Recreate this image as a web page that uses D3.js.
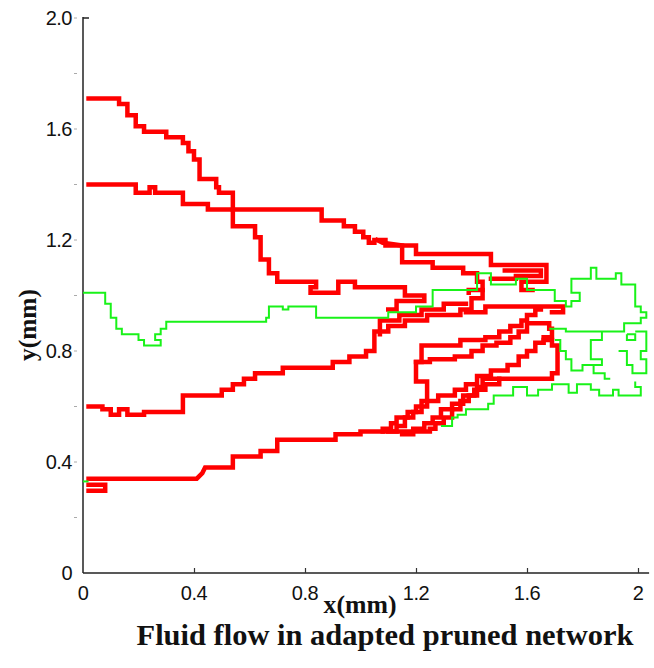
<!DOCTYPE html>
<html><head><meta charset="utf-8">
<script src="https://cdn.jsdelivr.net/npm/d3@7"></script>
<style>body{margin:0;background:#fff}svg{display:block}</style>
</head><body>
<svg id="chart" width="654" height="668"></svg>
<script>
// ---- data (mm) ----
const xTicks = [0, 0.4, 0.8, 1.2, 1.6, 2];
const yTicks = [0, 0.4, 0.8, 1.2, 1.6, 2.0];
const yMinorTicks = [0.2, 0.6, 1.0, 1.4, 1.8];
const xLabel = "x(mm)";
const yLabel = "y(mm)";
const title = "Fluid flow in adapted pruned network";

const redTop = [[0.02,1.71],[0.13,1.71],[0.13,1.69],[0.16,1.69],[0.16,1.65],[0.19,1.65],[0.19,1.61],[0.22,1.61],[0.22,1.59],[0.30,1.59],[0.30,1.57],[0.36,1.57],[0.36,1.55],[0.38,1.55],[0.38,1.52],[0.40,1.52],[0.40,1.49],[0.42,1.49],[0.42,1.42],[0.48,1.42],[0.48,1.39],[0.49,1.39],[0.49,1.37],[0.54,1.37],[0.54,1.31],[0.86,1.31],[0.86,1.27],[0.94,1.27],[0.94,1.25],[0.98,1.25],[0.98,1.23],[1.01,1.23],[1.01,1.21],[1.03,1.21],[1.03,1.19],[1.05,1.19],[1.05,1.20],[1.09,1.20],[1.09,1.18],[1.20,1.18],[1.20,1.15],[1.47,1.15],[1.47,1.11],[1.67,1.11],[1.67,1.05],[1.58,1.05],[1.58,1.02],[1.62,1.02]];
const redTopB = [[1.06,1.20],[1.08,1.19],[1.15,1.18],[1.15,1.12],[1.26,1.12],[1.26,1.10],[1.37,1.10],[1.37,1.08],[1.42,1.08],[1.42,1.05],[1.44,1.05],[1.44,1.02],[1.39,1.02],[1.39,1.01]];
const redTopC = [[1.47,1.06],[1.56,1.06],[1.56,1.07],[1.65,1.07],[1.65,1.09],[1.52,1.09]];
const redSecond = [[0.02,1.40],[0.19,1.40],[0.19,1.37],[0.24,1.37],[0.24,1.39],[0.26,1.39],[0.26,1.37],[0.36,1.37],[0.36,1.33],[0.45,1.33],[0.45,1.31],[0.54,1.31],[0.54,1.25],[0.62,1.25],[0.62,1.21],[0.64,1.21],[0.64,1.13],[0.67,1.13],[0.67,1.08],[0.70,1.08],[0.70,1.05],[0.84,1.05],[0.84,1.03],[0.82,1.03],[0.82,1.01],[0.92,1.01],[0.92,1.05],[0.98,1.05],[0.98,1.03],[1.16,1.03],[1.16,1.00],[1.23,1.00],[1.23,0.98],[1.13,0.98],[1.13,0.95],[1.10,0.95]];
const redThird = [[0.02,0.60],[0.07,0.60],[0.07,0.59],[0.10,0.59],[0.10,0.57],[0.13,0.57],[0.13,0.59],[0.16,0.59],[0.16,0.57],[0.22,0.57],[0.22,0.58],[0.36,0.58],[0.36,0.64],[0.50,0.64],[0.50,0.66],[0.54,0.66],[0.54,0.68],[0.58,0.68],[0.58,0.70],[0.62,0.70],[0.62,0.72],[0.72,0.72],[0.72,0.74],[0.90,0.74],[0.90,0.76],[0.96,0.76],[0.96,0.78],[1.02,0.78],[1.02,0.80],[1.05,0.80],[1.05,0.87],[1.10,0.87],[1.10,0.89],[1.16,0.89],[1.16,0.91],[1.24,0.91],[1.24,0.93],[1.36,0.93],[1.36,0.95],[1.40,0.95],[1.40,0.99],[1.44,0.99],[1.44,1.02]];
const redBand = [[1.07,0.86],[1.07,0.91],[1.14,0.91],[1.14,0.93],[1.22,0.93],[1.22,0.95],[1.30,0.95],[1.30,0.97],[1.38,0.97]];
const redMid = [[1.38,0.94],[1.45,0.94],[1.45,0.96],[1.73,0.96],[1.73,0.94],[1.69,0.94]];
const redBottom = [[0.02,0.34],[0.41,0.34],[0.42,0.35],[0.43,0.36],[0.44,0.38],[0.54,0.38],[0.54,0.42],[0.64,0.42],[0.64,0.44],[0.70,0.44],[0.70,0.48],[0.91,0.48],[0.91,0.50],[1.00,0.50],[1.00,0.51],[1.25,0.51],[1.25,0.52],[1.27,0.52],[1.27,0.54],[1.30,0.54],[1.30,0.56],[1.33,0.56],[1.33,0.59],[1.36,0.59],[1.36,0.62],[1.39,0.62],[1.39,0.64],[1.42,0.64],[1.42,0.67],[1.44,0.67],[1.44,0.70],[1.69,0.70],[1.69,0.72],[1.71,0.72],[1.71,0.82],[1.69,0.82],[1.69,0.84],[1.66,0.84]];
const redHook = [[0.02,0.318],[0.08,0.318],[0.08,0.296],[0.02,0.296]];
const redLoop = [[1.08,0.51],[1.08,0.52],[1.11,0.52],[1.11,0.54],[1.13,0.54],[1.13,0.56],[1.17,0.56],[1.17,0.58],[1.20,0.58],[1.20,0.60],[1.24,0.60],[1.24,0.69],[1.20,0.69],[1.20,0.76],[1.22,0.76],[1.22,0.82],[1.36,0.82],[1.36,0.84],[1.45,0.84],[1.45,0.85],[1.50,0.85],[1.50,0.87],[1.54,0.87],[1.54,0.89],[1.58,0.89],[1.58,0.91],[1.60,0.91],[1.60,0.93],[1.63,0.93],[1.63,0.95],[1.65,0.95]];
const redDiagA = [[1.10,0.51],[1.13,0.51],[1.13,0.53],[1.16,0.53],[1.16,0.56],[1.19,0.56],[1.19,0.58],[1.22,0.58],[1.22,0.62],[1.28,0.62],[1.28,0.64],[1.34,0.64],[1.34,0.66],[1.38,0.66],[1.38,0.68],[1.42,0.68],[1.42,0.71],[1.47,0.71],[1.47,0.73],[1.53,0.73],[1.53,0.75],[1.57,0.75],[1.57,0.78],[1.60,0.78],[1.60,0.80],[1.63,0.80],[1.63,0.83],[1.66,0.83],[1.66,0.85],[1.69,0.85],[1.69,0.88]];
const redDiagB = [[1.20,0.76],[1.25,0.76],[1.25,0.77],[1.34,0.77],[1.34,0.78],[1.40,0.78],[1.40,0.80],[1.44,0.80],[1.44,0.82],[1.49,0.82],[1.49,0.83],[1.54,0.83],[1.54,0.85],[1.57,0.85],[1.57,0.87],[1.60,0.87],[1.60,0.90],[1.68,0.90],[1.68,0.88]];
const redDiagC = [[1.15,0.50],[1.19,0.50],[1.19,0.52],[1.23,0.52],[1.23,0.54],[1.26,0.54],[1.26,0.56],[1.29,0.56],[1.29,0.59],[1.33,0.59],[1.33,0.61],[1.37,0.61],[1.37,0.64],[1.41,0.64],[1.41,0.66],[1.45,0.66],[1.45,0.68],[1.50,0.68],[1.50,0.70]];

const greenMain = [[0.00,1.01],[0.08,1.01],[0.08,0.97],[0.10,0.97],[0.10,0.92],[0.12,0.92],[0.12,0.88],[0.14,0.88],[0.14,0.86],[0.20,0.86],[0.20,0.84],[0.22,0.84],[0.22,0.82],[0.28,0.82],[0.28,0.84],[0.26,0.84],[0.26,0.86],[0.28,0.86],[0.28,0.88],[0.30,0.88],[0.30,0.905],[0.66,0.905],[0.66,0.92],[0.67,0.92],[0.67,0.96],[0.72,0.96],[0.72,0.95],[0.74,0.95],[0.74,0.96],[0.84,0.96],[0.84,0.92],[1.10,0.92],[1.10,0.94],[1.20,0.94],[1.20,0.96],[1.26,0.96],[1.26,1.02],[1.42,1.02],[1.42,1.08],[1.47,1.08],[1.47,1.04],[1.56,1.04],[1.56,1.06],[1.60,1.06],[1.60,1.02],[1.70,1.02],[1.70,0.98],[1.74,0.98],[1.74,0.96],[1.76,0.96],[1.76,0.98],[1.79,0.98],[1.79,1.01],[1.76,1.01],[1.76,1.06],[1.83,1.06],[1.83,1.10],[1.85,1.10],[1.85,1.06],[1.92,1.06],[1.92,1.08],[1.94,1.08],[1.94,1.04],[1.99,1.04],[1.99,0.96],[2.01,0.96],[2.01,0.94],[2.03,0.94],[2.03,0.92],[2.01,0.92],[2.01,0.90],[1.95,0.90],[1.95,0.87],[1.74,0.87],[1.74,0.88],[1.68,0.88]];
const greenLow = [[1.29,0.53],[1.33,0.53],[1.33,0.56],[1.35,0.56],[1.35,0.57],[1.38,0.57],[1.38,0.59],[1.46,0.59],[1.46,0.61],[1.48,0.61],[1.48,0.64],[1.55,0.64],[1.55,0.67],[1.60,0.67],[1.60,0.64],[1.64,0.64],[1.64,0.66],[1.69,0.66],[1.69,0.68],[1.75,0.68],[1.75,0.65],[1.78,0.65],[1.78,0.68],[1.83,0.68],[1.83,0.66],[1.86,0.66],[1.86,0.64],[1.91,0.64],[1.91,0.66],[1.93,0.66],[1.93,0.64],[2.01,0.64],[2.01,0.67],[1.99,0.67],[1.99,0.69]];
const greenWebA = [[1.70,0.84],[1.72,0.84],[1.72,0.80],[1.74,0.80],[1.74,0.77],[1.76,0.77],[1.76,0.73],[1.80,0.73],[1.80,0.75],[1.84,0.75],[1.84,0.72],[1.88,0.72],[1.88,0.70],[1.90,0.70]];
const greenWebB = [[1.87,0.87],[1.87,0.84],[1.83,0.84],[1.83,0.77],[1.87,0.77],[1.87,0.75],[1.84,0.75]];
const greenWebC = [[1.99,0.87],[2.03,0.87],[2.03,0.80],[2.01,0.80],[2.01,0.77],[2.03,0.77],[2.03,0.72],[1.98,0.72],[1.98,0.75],[1.96,0.75],[1.96,0.80],[1.93,0.80]];
const greenSquare = [[1.96,0.86],[1.99,0.86],[1.99,0.84],[1.96,0.84],[1.96,0.86]];
const greenStub = [[0.00,0.33],[0.02,0.33]];

const redPaths = [redTop, redTopB, redTopC, redSecond, redThird, redBand, redMid, redBottom, redHook, redLoop, redDiagA, redDiagB, redDiagC];
const greenPaths = [greenMain, greenLow, greenWebA, greenWebB, greenWebC, greenSquare, greenStub];

// ---- drawing ----
const svg = d3.select("#chart");
const x = d3.scaleLinear().domain([0, 2]).range([83, 638]);
const y = d3.scaleLinear().domain([0, 2]).range([573, 18]);
const line = d3.line().x(d => x(d[0])).y(d => y(d[1]));

// axes lines
svg.append("line").attr("x1", x(0)).attr("x2", x(2.04)).attr("y1", y(0)).attr("y2", y(0))
  .attr("stroke", "#222").attr("stroke-width", 1.5);
svg.append("line").attr("x1", x(0)).attr("x2", x(0)).attr("y1", y(0)).attr("y2", y(2.0) - 1)
  .attr("stroke", "#222").attr("stroke-width", 1.5);
svg.append("line").attr("x1", x(0)).attr("x2", x(0) + 6).attr("y1", y(2.0)).attr("y2", y(2.0))
  .attr("stroke", "#222").attr("stroke-width", 1.5);

const fmtX = d => (d === 0 || d === 2) ? String(d) : d3.format(".1f")(d);
const fmtY = d => d === 0 ? "0" : d3.format(".1f")(d);

const gx = svg.append("g").attr("transform", `translate(0,${y(0)})`)
  .call(d3.axisBottom(x).tickValues(xTicks.filter(d => d > 0)).tickSize(-5).tickPadding(0).tickFormat(fmtX));
gx.select(".domain").remove();
gx.selectAll("line").attr("stroke", "#333").attr("stroke-width", 1.2);
gx.selectAll("text").remove();
svg.append("g").selectAll("text").data(xTicks).join("text")
  .attr("x", d => x(d)).attr("y", 600).attr("text-anchor", "middle")
  .attr("font-family", "'Liberation Sans', Arial, sans-serif").attr("font-size", 20)
  .attr("letter-spacing", "-0.5").attr("fill", "#111").text(fmtX);

const gy = svg.append("g").attr("transform", `translate(${x(0)},0)`)
  .call(d3.axisLeft(y).tickValues(yTicks.concat(yMinorTicks)).tickSize(0).tickFormat(""));
gy.select(".domain").remove();
svg.append("g").selectAll("line").data(yTicks.filter(d => d > 0).concat(yMinorTicks)).join("line")
  .attr("x1", 74).attr("x2", 77).attr("y1", d => y(d)).attr("y2", d => y(d))
  .attr("stroke", "#aaa").attr("stroke-width", 1);
svg.append("g").selectAll("text").data(yTicks).join("text")
  .attr("x", 72).attr("y", d => y(d)).attr("dy", "0.36em").attr("text-anchor", "end")
  .attr("font-family", "'Liberation Sans', Arial, sans-serif").attr("font-size", 20)
  .attr("letter-spacing", "-0.5").attr("fill", "#111").text(fmtY);

// paths
svg.append("g").selectAll("path").data(redPaths).join("path")
  .attr("d", line).attr("fill", "none").attr("stroke", "#ff0000")
  .attr("stroke-width", 4.5).attr("stroke-linejoin", "miter").attr("stroke-linecap", "square");
svg.append("g").selectAll("path").data(greenPaths).join("path")
  .attr("d", line).attr("fill", "none").attr("stroke", "#19f219")
  .attr("stroke-width", 2).attr("stroke-linejoin", "miter");

// labels
function fitText(sel, target) {
  const w = sel.node().getComputedTextLength();
  const fs = parseFloat(sel.attr("font-size"));
  sel.attr("font-size", fs * target / w);
}
const serif = "'Liberation Serif', 'Times New Roman', serif";
const xl = svg.append("text").attr("x", 360).attr("y", 613).attr("text-anchor", "middle")
  .attr("font-family", serif).attr("font-weight", "bold").attr("font-size", 26).attr("fill", "#111").text(xLabel);
fitText(xl, 73);
const yl = svg.append("text").attr("transform", "translate(36,325) rotate(-90)").attr("text-anchor", "middle")
  .attr("font-family", serif).attr("font-weight", "bold").attr("font-size", 26).attr("fill", "#111").text(yLabel);
fitText(yl, 72);
const tl = svg.append("text").attr("x", 385).attr("y", 645).attr("text-anchor", "middle")
  .attr("font-family", serif).attr("font-weight", "bold").attr("font-size", 28).attr("fill", "#111").text(title);
fitText(tl, 497);
</script>
</body></html>
